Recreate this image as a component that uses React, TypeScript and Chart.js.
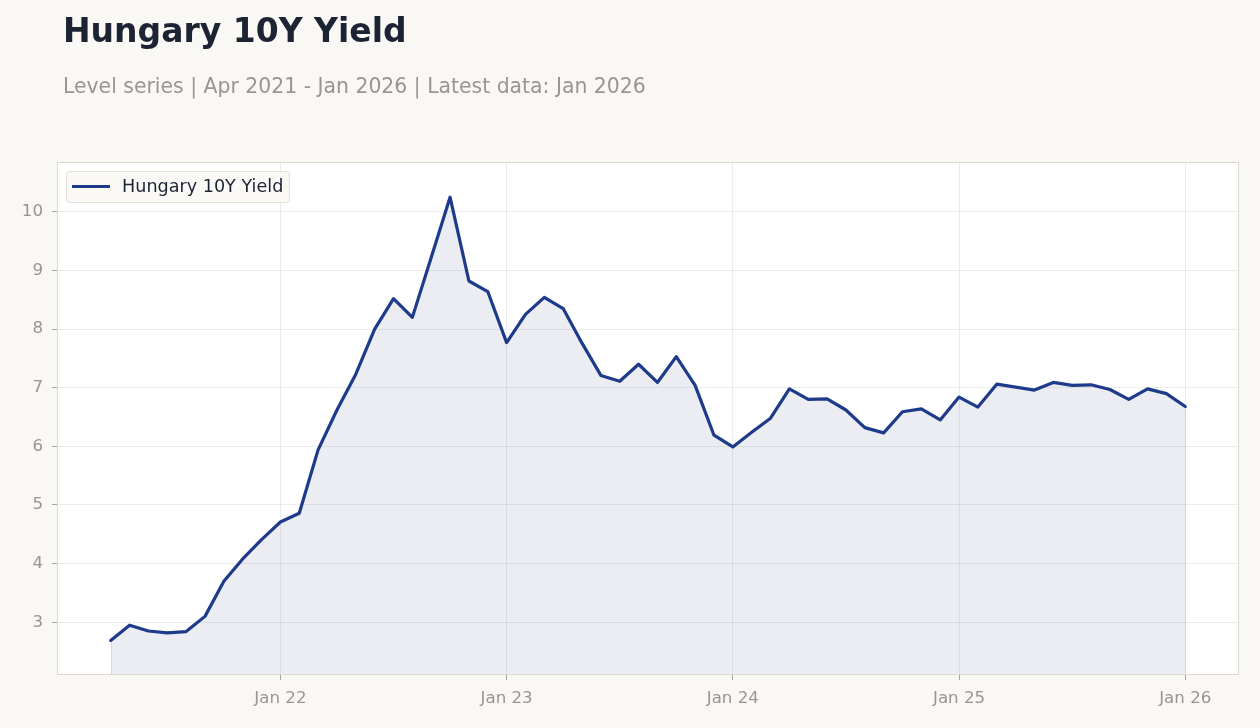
import React, { useEffect, useRef } from "react";
import { Chart, registerables } from "chart.js";

Chart.register(...registerables);

// Monthly observations, Apr 2021 .. Jan 2026
const months: string[] = [
  "2021-04", "2021-05", "2021-06", "2021-07", "2021-08", "2021-09", "2021-10", "2021-11", "2021-12",
  "2022-01", "2022-02", "2022-03", "2022-04", "2022-05", "2022-06", "2022-07", "2022-08", "2022-09", "2022-10", "2022-11", "2022-12",
  "2023-01", "2023-02", "2023-03", "2023-04", "2023-05", "2023-06", "2023-07", "2023-08", "2023-09", "2023-10", "2023-11", "2023-12",
  "2024-01", "2024-02", "2024-03", "2024-04", "2024-05", "2024-06", "2024-07", "2024-08", "2024-09", "2024-10", "2024-11", "2024-12",
  "2025-01", "2025-02", "2025-03", "2025-04", "2025-05", "2025-06", "2025-07", "2025-08", "2025-09", "2025-10", "2025-11", "2025-12",
  "2026-01",
];

const yields: number[] = [
  2.69, 2.95, 2.85, 2.82, 2.84, 3.10, 3.70, 4.08, 4.41,
  4.71, 4.86, 5.94, 6.62, 7.23, 8.00, 8.52, 8.20, 9.22, 10.25, 8.82, 8.64,
  7.77, 8.25, 8.54, 8.35, 7.76, 7.21, 7.11, 7.40, 7.09, 7.53, 7.04, 6.19,
  5.99, 6.24, 6.48, 6.98, 6.80, 6.81, 6.62, 6.32, 6.23, 6.59, 6.64, 6.45,
  6.84, 6.67, 7.06, 7.01, 6.96, 7.09, 7.04, 7.05, 6.97, 6.80, 6.98, 6.90,
  6.68,
];

const xTickMonths: string[] = ["2022-01", "2023-01", "2024-01", "2025-01", "2026-01"];
const xTickLabels: string[] = ["Jan 22", "Jan 23", "Jan 24", "Jan 25", "Jan 26"];
const yTickValues: number[] = [3, 4, 5, 6, 7, 8, 9, 10];

const seriesName = "Hungary 10Y Yield";
const titleText = "Hungary 10Y Yield";
const subtitleText = "Level series | Apr 2021 - Jan 2026 | Latest data: Jan 2026";

const FONT = "'DejaVu Sans', 'Liberation Sans', sans-serif";
const LINE = "#1e3a8a";
const FILL = "rgba(65, 75, 125, 0.1)";
const PAGE_BG = "#f9f8f5";
const TICK_TEXT = "#99958f";
const GRID = "rgba(0, 0, 0, 0.07)";
const FRAME = "#ddd8d0";

const xTickIndex = xTickMonths.map((m) => months.indexOf(m));

const decorations = {
  id: "decorations",
  beforeDraw(chart: Chart) {
    const { ctx, chartArea: a, width, height } = chart;
    ctx.save();
    ctx.fillStyle = PAGE_BG;
    ctx.fillRect(0, 0, width, height);
    ctx.fillStyle = "#ffffff";
    ctx.fillRect(a.left, a.top, a.right - a.left, a.bottom - a.top);

    ctx.fillStyle = "#1c2333";
    ctx.font = `bold 33px ${FONT}`;
    ctx.textBaseline = "alphabetic";
    ctx.textAlign = "left";
    ctx.fillText(titleText, 63, 42);

    ctx.fillStyle = TICK_TEXT;
    ctx.font = `20.4px ${FONT}`;
    ctx.fillText(subtitleText, 63, 92.5);
    ctx.restore();
  },
  afterDatasetsDraw(chart: Chart) {
    const { ctx, chartArea: a } = chart;
    const meta = chart.getDatasetMeta(0);
    const pts = meta.data;
    ctx.save();
    // faint edges closing the shaded area at both ends
    ctx.strokeStyle = "rgba(30, 58, 138, 0.12)";
    ctx.lineWidth = 1;
    [pts[0], pts[pts.length - 1]].forEach((p: any) => {
      ctx.beginPath();
      ctx.moveTo(Math.round(p.x) + 0.5, p.y);
      ctx.lineTo(Math.round(p.x) + 0.5, a.bottom);
      ctx.stroke();
    });

    // plot frame
    ctx.strokeStyle = FRAME;
    ctx.lineWidth = 1;
    ctx.strokeRect(a.left + 0.5, a.top + 0.5, a.right - a.left - 1, a.bottom - a.top - 1);

    // legend
    const bx = 66.5, by = 171.5, bw = 223, bh = 31, r = 3;
    ctx.beginPath();
    ctx.moveTo(bx + r, by);
    ctx.arcTo(bx + bw, by, bx + bw, by + bh, r);
    ctx.arcTo(bx + bw, by + bh, bx, by + bh, r);
    ctx.arcTo(bx, by + bh, bx, by, r);
    ctx.arcTo(bx, by, bx + bw, by, r);
    ctx.closePath();
    ctx.fillStyle = "rgba(249, 248, 245, 0.85)";
    ctx.fill();
    ctx.strokeStyle = "#e4dfd7";
    ctx.stroke();

    ctx.strokeStyle = LINE;
    ctx.lineWidth = 3;
    ctx.beginPath();
    ctx.moveTo(72, 186.5);
    ctx.lineTo(110, 186.5);
    ctx.stroke();

    ctx.fillStyle = "#1c2333";
    ctx.font = `17.6px ${FONT}`;
    ctx.textBaseline = "middle";
    ctx.textAlign = "left";
    ctx.fillText(seriesName, 122, 187);
    ctx.restore();
  },
};

export default function App() {
  const canvasRef = useRef<HTMLCanvasElement | null>(null);

  useEffect(() => {
    document.body.style.margin = "0";
    const canvas = canvasRef.current;
    if (!canvas) return;
    const chart = new Chart(canvas, {
      type: "line",
      data: {
        datasets: [
          {
            label: seriesName,
            data: yields.map((v, i) => ({ x: i, y: v })),
            borderColor: LINE,
            borderWidth: 3.2,
            backgroundColor: FILL,
            fill: "start",
            pointRadius: 0,
            tension: 0,
            borderJoinStyle: "round",
            borderCapStyle: "round",
          },
        ],
      },
      options: {
        responsive: false,
        animation: false,
        devicePixelRatio: 1,
        layout: { padding: { left: 0, right: 21, top: 162, bottom: 0 } },
        plugins: {
          legend: { display: false },
          title: { display: false },
          tooltip: { enabled: false },
        },
        scales: {
          x: {
            type: "linear",
            min: -2.85,
            max: months.length - 1 + 2.85,
            afterBuildTicks: (s: any) => {
              s.ticks = xTickIndex.map((v) => ({ value: v }));
            },
            afterFit: (s: any) => {
              s.height = 53;
            },
            ticks: {
              autoSkip: false,
              maxRotation: 0,
              padding: 9,
              color: TICK_TEXT,
              font: { family: FONT, size: 16.67 },
              callback: (v: any) => {
                const k = xTickIndex.indexOf(Number(v));
                return k >= 0 ? xTickLabels[k] : "";
              },
            },
            grid: { color: GRID, tickColor: "#a8a49e", tickLength: 5 },
            border: { display: false },
          },
          y: {
            type: "linear",
            min: 2.1,
            max: 10.85,
            afterBuildTicks: (s: any) => {
              s.ticks = yTickValues.map((v) => ({ value: v }));
            },
            afterFit: (s: any) => {
              s.width = 57;
            },
            ticks: {
              padding: 9,
              color: TICK_TEXT,
              font: { family: FONT, size: 16.67 },
              callback: (v: any) => String(v),
            },
            grid: { color: GRID, tickColor: "#a8a49e", tickLength: 5 },
            border: { display: false },
          },
        },
      },
      plugins: [decorations],
    });
    return () => chart.destroy();
  }, []);

  return (
    <div style={{ position: "fixed", left: 0, top: 0, width: 1260, height: 728, background: PAGE_BG }}>
      <canvas ref={canvasRef} width={1260} height={728} style={{ display: "block", width: 1260, height: 728 }} />
    </div>
  );
}
